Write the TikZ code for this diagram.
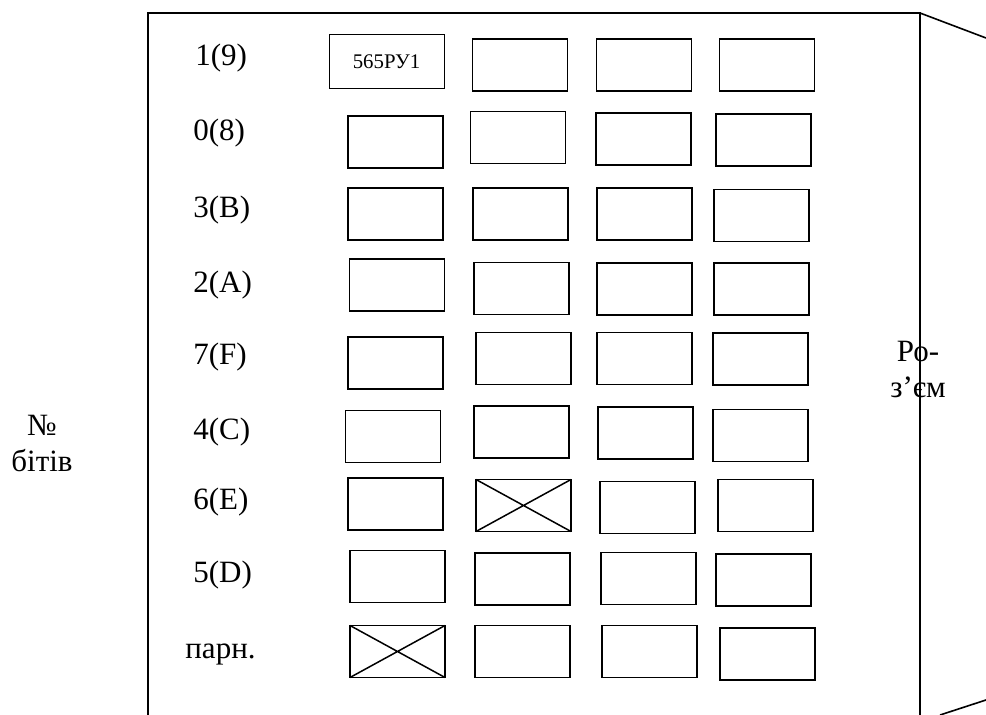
\documentclass[tikz,border=0pt]{standalone}
\usepackage{fontspec}
\setmainfont{Liberation Serif}
\usepackage{tikz}

\begin{document}
\begin{tikzpicture}[x=0.5pt, y=-0.5pt, font=\fontsize{15.5}{18}\selectfont,
    chip/.style={draw, line width=0.75pt, minimum width=47.5pt, minimum height=26pt, inner sep=0pt, outer sep=0pt},
    bitlabel/.style={anchor=base west, inner sep=0pt}]
      % scale: 1 unit = 1 px of the page, y runs down
      \useasboundingbox (0,0) rectangle (986,715);
      % board and connector edge
      \draw[line width=0.8pt] (148,715) -- (148,13) -- (920,13) -- (920,715);
      \draw[line width=0.8pt] (920,13) -- (986,38);
      \draw[line width=0.8pt] (940,715) -- (986,700);
      \node[align=center, anchor=base] (plug) at (918,398) {Ро-\\з’єм};
      \node[align=center, anchor=base] (bits) at (42,472) {№\\бітів};
      % bit rows
      \node[bitlabel] (b1) at (195,66)  {1(9)};
      \node[bitlabel] (b2) at (193,141) {0(8)};
      \node[bitlabel] (b3) at (193,218) {3(B)};
      \node[bitlabel] (b4) at (193,293) {2(A)};
      \node[bitlabel] (b5) at (193,365) {7(F)};
      \node[bitlabel] (b6) at (193,440) {4(C)};
      \node[bitlabel] (b7) at (193,510) {6(E)};
      \node[bitlabel] (b8) at (193,583) {5(D)};
      \node[bitlabel] (b9) at (185,659) {парн.};
      % memory chips
      \node[chip, line width=0.5pt, minimum width=57.5pt, minimum height=27pt, font=\fontsize{10.4}{12}\selectfont] (c11) at (386.5,62) {565РУ1};
      \node[chip] (c12) at (520,65)  {};
      \node[chip] (c13) at (644,65)  {};
      \node[chip] (c14) at (767,65)  {};
      \node[chip] (c21) at (395.5,142) {};
      \node[chip] (c22) at (518,137.5) {};
      \node[chip] (c23) at (643.5,139) {};
      \node[chip] (c24) at (763.5,140) {};
      \node[chip] (c31) at (395.5,214) {};
      \node[chip] (c32) at (520.5,214) {};
      \node[chip] (c33) at (644.5,214) {};
      \node[chip] (c34) at (761.5,215.5) {};
      \node[chip] (c41) at (397,285) {};
      \node[chip] (c42) at (521.5,288.5) {};
      \node[chip] (c43) at (644.5,289) {};
      \node[chip] (c44) at (761.5,289) {};
      \node[chip] (c51) at (395.5,363) {};
      \node[chip] (c52) at (523.5,358.5) {};
      \node[chip] (c53) at (644.5,358.5) {};
      \node[chip] (c54) at (760.5,359) {};
      \node[chip] (c61) at (393,436.5) {};
      \node[chip] (c62) at (521.5,432) {};
      \node[chip] (c63) at (645.5,433) {};
      \node[chip] (c64) at (760.5,435.5) {};
      \node[chip] (c71) at (395.5,504) {};
      \node[chip] (c72) at (523.5,505.5) {};
      \node[chip] (c73) at (647.5,507.5) {};
      \node[chip] (c74) at (765.5,505.5) {};
      \node[chip] (c81) at (397.5,576.5) {};
      \node[chip] (c82) at (522.5,579) {};
      \node[chip] (c83) at (648.5,578.5) {};
      \node[chip] (c84) at (763.5,580) {};
      \node[chip] (c91) at (397.5,651.5) {};
      \node[chip] (c92) at (522.5,651.5) {};
      \node[chip] (c93) at (649.5,651.5) {};
      \node[chip] (c94) at (767.5,654) {};
      % crossed out
      \draw[line width=0.75pt] (c72.north west) -- (c72.south east) (c72.south west) -- (c72.north east);
      \draw[line width=0.75pt] (c91.north west) -- (c91.south east) (c91.south west) -- (c91.north east);
    \end{tikzpicture}
\end{document}
